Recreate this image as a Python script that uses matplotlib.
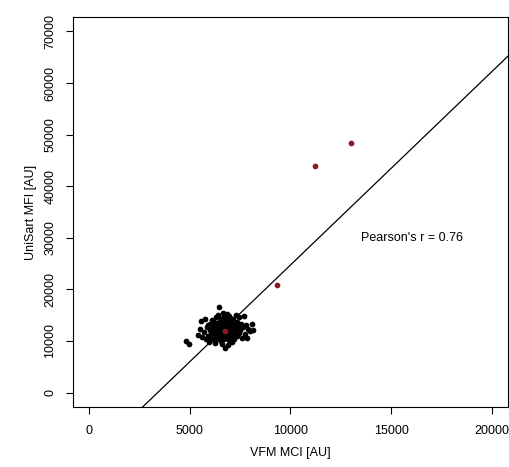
import matplotlib.pyplot as plt
import numpy as np

plt.rc('font', family=['Liberation Sans', 'DejaVu Sans'])

# black points (VFM MCI, UniSart MFI)
mci = [4800, 4950, 5400, 5500, 5550, 5600, 5700, 5750, 5800, 5850,
       5900, 5950, 6000, 6000, 6050, 6100, 6100, 6150, 6200, 6200,
       6250, 6250, 6300, 6300, 6350, 6350, 6400, 6400, 6450, 6450,
       6450, 6500, 6500, 6550, 6550, 6550, 6600, 6600, 6650, 6650,
       6650, 6700, 6700, 6700, 6750, 6750, 6750, 6800, 6800, 6800,
       6850, 6850, 6850, 6900, 6900, 6900, 6950, 6950, 7000, 7000,
       7000, 7050, 7050, 7100, 7100, 7150, 7150, 7200, 7200, 7250,
       7250, 7300, 7300, 7350, 7350, 7400, 7450, 7450, 7500, 7550,
       7600, 7650, 7700, 7750, 7800, 7900, 8000, 8100, 8150, 7850,
       6600, 6200, 6400, 6900, 7100, 5900, 6050, 6750, 7000, 6500,
       6650, 6850, 7150, 6950, 6300]
mfi = [9900, 9400, 11200, 12300, 13800, 10700, 11800, 14300, 10300, 12700,
       11000, 9800, 12100, 13300, 10500, 11600, 14000, 12900, 10200, 13600,
       11300, 9600, 12400, 14600, 10900, 13100, 11900, 15100, 16600, 12600,
       10400, 13900, 11400, 12200, 14300, 9900, 13400, 10800, 12800, 15500,
       11700, 14100, 13000, 10300, 12000, 13700, 8700, 11200, 12700, 14800,
       13300, 10600, 15300, 12300, 11500, 14000, 13500, 10100, 12600, 11800,
       14500, 13100, 10900, 12100, 13800, 11400, 14200, 12800, 10400, 13400,
       11900, 12400, 15000, 11000, 13600, 12900, 11600, 14700, 12200, 13300,
       10600, 12700, 14800, 11300, 13000, 12300, 11900, 13300, 12200, 10500,
       9500, 12000, 13500, 9200, 9800, 13000, 11700, 11000, 13200, 12500,
       14500, 12000, 12600, 14800, 11000]

# highlighted points
red_mci = [6750, 9350, 11200, 13000]
red_mfi = [11900, 20800, 43850, 48350]

fit_intercept = -12770
fit_slope = 3.75
pearson_r = 0.76

fig = plt.figure(figsize=(5.1, 4.67), dpi=100)
ax = fig.add_axes([0.1431, 0.1285, 0.853, 0.835])

ax.scatter(mci, mfi, s=17, color='black', linewidths=0, zorder=3)
ax.scatter(red_mci, red_mfi, s=17, color='#8b1a24', linewidths=0, zorder=4)
ax.axline((0, fit_intercept), slope=fit_slope, color='black', linewidth=0.9, zorder=2)

ax.text(16050, 30000, "Pearson's r = {:.2f}".format(pearson_r), fontsize=9,
        ha='center', va='center')

ax.set_xlim(-800, 20800)
ax.set_ylim(-2800, 72800)
ax.set_xticks(np.arange(0, 20001, 5000))
ax.set_yticks(np.arange(0, 70001, 10000))
ax.set_yticklabels([str(v) for v in range(0, 70001, 10000)], rotation=90, va='center')

ax.tick_params(direction='out', length=5, width=0.8, labelsize=9)
ax.tick_params(axis='x', pad=8)
ax.tick_params(axis='y', pad=7)
for sp in ax.spines.values():
    sp.set_linewidth(0.8)

ax.set_xlabel('VFM MCI [AU]', fontsize=9, labelpad=7)
ax.set_ylabel('UniSart MFI [AU]', fontsize=9, labelpad=5)

fig.savefig('out.png', dpi=100)
